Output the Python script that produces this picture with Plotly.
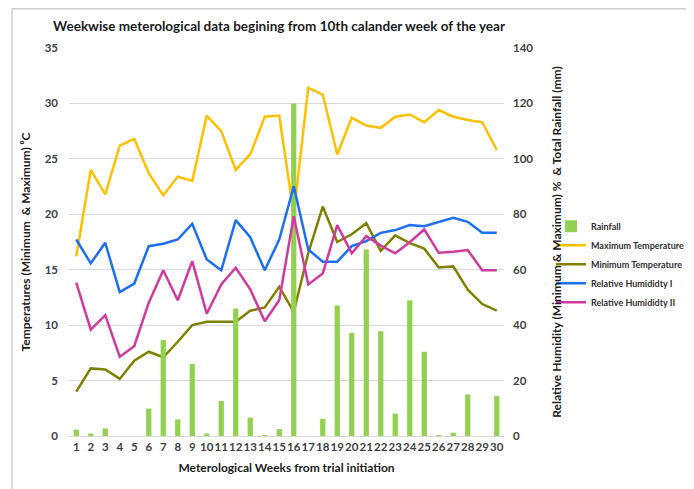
import plotly.graph_objects as go

weeks = list(range(1, 31))
week_labels = [str(w) for w in weeks]

rainfall = [2.3, 0.9, 2.7, 0, 0, 9.9, 34.6, 6.0, 26.0, 0.9, 12.6, 46.0, 6.6, 0.3, 2.5,
            120.0, 0, 6.2, 47.1, 37.2, 67.3, 37.8, 8.1, 49.0, 30.4, 0.2, 1.2, 15.0, 0, 14.4]
max_temp = [16.2, 24.0, 21.8, 26.2, 26.8, 23.7, 21.7, 23.4, 23.0, 28.9, 27.5, 24.0, 25.4, 28.8, 28.9,
            20.0, 31.4, 30.8, 25.4, 28.7, 28.0, 27.8, 28.8, 29.0, 28.3, 29.4, 28.8, 28.5, 28.3, 25.8]
min_temp = [4.0, 6.1, 6.0, 5.15, 6.8, 7.6, 7.1, 8.5, 10.0, 10.3, 10.3, 10.3, 11.3, 11.6, 13.45,
            11.2, 16.5, 20.7, 17.5, 18.2, 19.2, 16.7, 18.1, 17.4, 16.9, 15.2, 15.3, 13.2, 11.9, 11.3]
rh1 = [70.9, 62.3, 69.7, 51.9, 55.0, 68.5, 69.4, 70.9, 76.6, 63.7, 59.8, 77.9, 71.7, 59.8, 70.9,
       90.1, 67.3, 62.9, 62.9, 68.5, 70.3, 73.3, 74.3, 76.1, 75.7, 77.3, 78.7, 77.3, 73.3, 73.3]
rh2 = [55.3, 38.4, 43.6, 28.6, 32.4, 48.1, 59.8, 49.0, 63.1, 44.1, 54.7, 60.7, 52.9, 41.4, 49.0,
       79.3, 54.7, 58.6, 76.1, 65.9, 72.1, 68.7, 65.9, 69.9, 74.5, 66.1, 66.5, 67.1, 59.8, 59.8]

FONT = "Lato"
TXT = "#404040"

fig = go.Figure()
fig.add_trace(go.Scatter(x=weeks, y=max_temp, name="Maximum Temperature", mode="lines",
                         line=dict(color="#FFC000", width=2.5), yaxis="y", legendrank=2))
fig.add_trace(go.Scatter(x=weeks, y=min_temp, name="Minimum Temperature", mode="lines",
                         line=dict(color="#808000", width=2.5), yaxis="y", legendrank=3))
fig.add_trace(go.Bar(x=weeks, y=rainfall, name="Rainfall", marker=dict(color="#92D050", line_width=0),
                     yaxis="y2", legendrank=1))
fig.add_trace(go.Scatter(x=weeks, y=rh1, name="Relative Humididty I", mode="lines",
                         line=dict(color="#1A6FF5", width=2.5), yaxis="y2", legendrank=4))
fig.add_trace(go.Scatter(x=weeks, y=rh2, name="Relative Humididty II", mode="lines",
                         line=dict(color="#D03A9E", width=2.5), yaxis="y2", legendrank=5))

tickfont = dict(family=FONT, size=11.5, color=TXT, weight="bold")
titlefont = dict(family=FONT, size=12, color="#202020", weight="bold")

fig.update_layout(
    width=694, height=489,
    margin=dict(l=61, r=198, t=40, b=60.5, autoexpand=False),
    paper_bgcolor="white", plot_bgcolor="white",
    bargap=0.64,
    title=dict(text="Weekwise meterological data begining from 10th calander week of the year",
               x=0.065, xanchor="left", y=0.963, yanchor="middle",
               font=dict(family=FONT, size=13.5, color="#1a1a1a", weight="bold")),
    xaxis=dict(range=[0.5, 30.5], tickmode="array", tickvals=weeks, ticktext=week_labels,
               tickangle=0, automargin=False,
               showgrid=False, zeroline=False, showline=True, linecolor="#D9D9D9", linewidth=1,
               tickfont=dict(family=FONT, size=11.5, color=TXT, weight="bold"),
               title=dict(text="Meterological Weeks from trial initiation", font=titlefont, standoff=11)),
    yaxis=dict(range=[0, 35], dtick=5, showgrid=True, gridcolor="#D9D9D9", gridwidth=1,
               zeroline=False, tickfont=tickfont, ticks="", automargin=False, ticklabelstandoff=10,
               title=dict(text="Temperatures (Minimum  & Maximum) ⁰C", font=titlefont, standoff=11)),
    yaxis2=dict(range=[0, 140], dtick=20, overlaying="y", side="right", showgrid=False,
                zeroline=False, tickfont=tickfont, automargin=False, ticklabelstandoff=8,
                title=dict(text="Relative Humidity (Minimum & Maximum) %  & Total Rainfall (mm)",
                           font=titlefont, standoff=20)),
    legend=dict(x=1.108, y=0.578, xanchor="left", yanchor="top",
                font=dict(family=FONT, size=9, color="#303030", weight="bold"),
                itemwidth=30, tracegroupgap=0, bgcolor="rgba(0,0,0,0)"),
    shapes=[
        dict(type="line", xref="paper", yref="paper", x0=-0.131, x1=1.45, y0=1.101, y1=1.101,
             line=dict(color="#D0D0D0", width=1.5)),
        dict(type="line", xref="paper", yref="paper", x0=-0.131, x1=-0.131, y0=1.101, y1=-0.2,
             line=dict(color="#D0D0D0", width=1.5)),
    ],
)

fig.write_html("out.html")
